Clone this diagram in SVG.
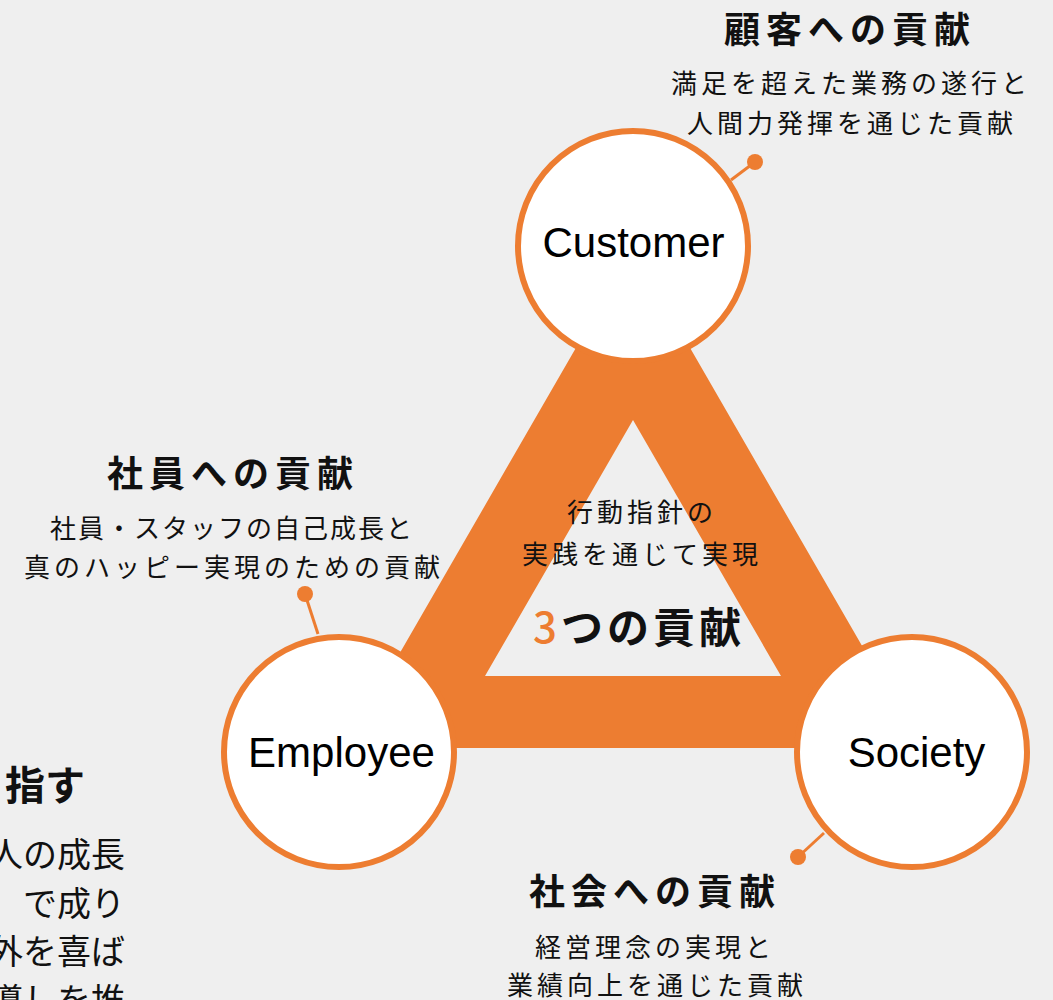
<svg xmlns="http://www.w3.org/2000/svg" width="1053" height="1000" viewBox="0 0 1053 1000">
<style>
.jp{font-family:"Noto Sans CJK JP","Noto Sans",sans-serif;fill:#111}
.ttl{font-size:36px;font-weight:700;letter-spacing:6px;text-anchor:middle}
.sub{font-size:26px;letter-spacing:4px;text-anchor:middle}
.en{font-family:"Liberation Sans",Arial,sans-serif;font-size:42px;fill:#000;text-anchor:middle}
.node{fill:#fff;stroke:#ED7D31;stroke-width:6}
.conn line{stroke:#ED7D31;stroke-width:3}
.conn circle{fill:#ED7D31}
.left{font-family:"Noto Sans CJK JP","Noto Sans",sans-serif;fill:#111;text-anchor:end}
</style>
<rect width="1053" height="1000" fill="#EFEFEF"/>

<g id="left-text">
<text class="left" x="85" y="800" font-size="40" font-weight="700">指す</text>
<text class="left" x="125" y="867" font-size="34">人の成長</text>
<text class="left" x="125" y="916" font-size="34">で成り</text>
<text class="left" x="125" y="964" font-size="34">外を喜ば</text>
<text class="left" x="125" y="1013" font-size="34">導しを推</text>
</g>

<g id="triangle">
<path d="M633,249 L921,748 L345,748 Z M633,420 L485,676 L781,676 Z" fill="#ED7D31" fill-rule="evenodd"/>
</g>

<g id="center-text">
<text class="jp sub" x="642" y="522">行動指針の</text>
<text class="jp sub" x="642" y="564">実践を通じて実現</text>
<text class="jp ttl" x="639" y="643" style="font-size:42px;letter-spacing:4px"><tspan fill="#ED7D31" font-weight="500">3</tspan>つの貢献</text>
</g>

<g class="conn" id="connectors">
<line x1="731" y1="180" x2="755" y2="162"/>
<circle cx="755" cy="162" r="8"/>
<line x1="318" y1="634" x2="305" y2="594"/>
<circle cx="305" cy="594" r="8"/>
<line x1="824" y1="833" x2="798" y2="857"/>
<circle cx="798" cy="857" r="8"/>
</g>

<g id="customer">
<circle class="node" cx="633" cy="246" r="115"/>
<text class="en" x="633.5" y="257">Customer</text>
</g>
<g id="employee">
<circle class="node" cx="339" cy="752" r="115"/>
<text class="en" x="341.5" y="767">Employee</text>
</g>
<g id="society">
<circle class="node" cx="912" cy="752" r="115"/>
<text class="en" x="916.5" y="767">Society</text>
</g>

<g id="customer-label">
<text class="jp ttl" x="850" y="43">顧客への貢献</text>
<text class="jp sub" x="851" y="93">満足を超えた業務の遂行と</text>
<text class="jp sub" x="852" y="133">人間力発揮を通じた貢献</text>
</g>
<g id="employee-label">
<text class="jp ttl" x="233" y="487">社員への貢献</text>
<text class="jp sub" x="232" y="538" style="letter-spacing:2px">社員・スタッフの自己成長と</text>
<text class="jp sub" x="234" y="577">真のハッピー実現のための貢献</text>
</g>
<g id="society-label">
<text class="jp ttl" x="655" y="905">社会への貢献</text>
<text class="jp sub" x="655" y="957">経営理念の実現と</text>
<text class="jp sub" x="657" y="995">業績向上を通じた貢献</text>
</g>
</svg>
